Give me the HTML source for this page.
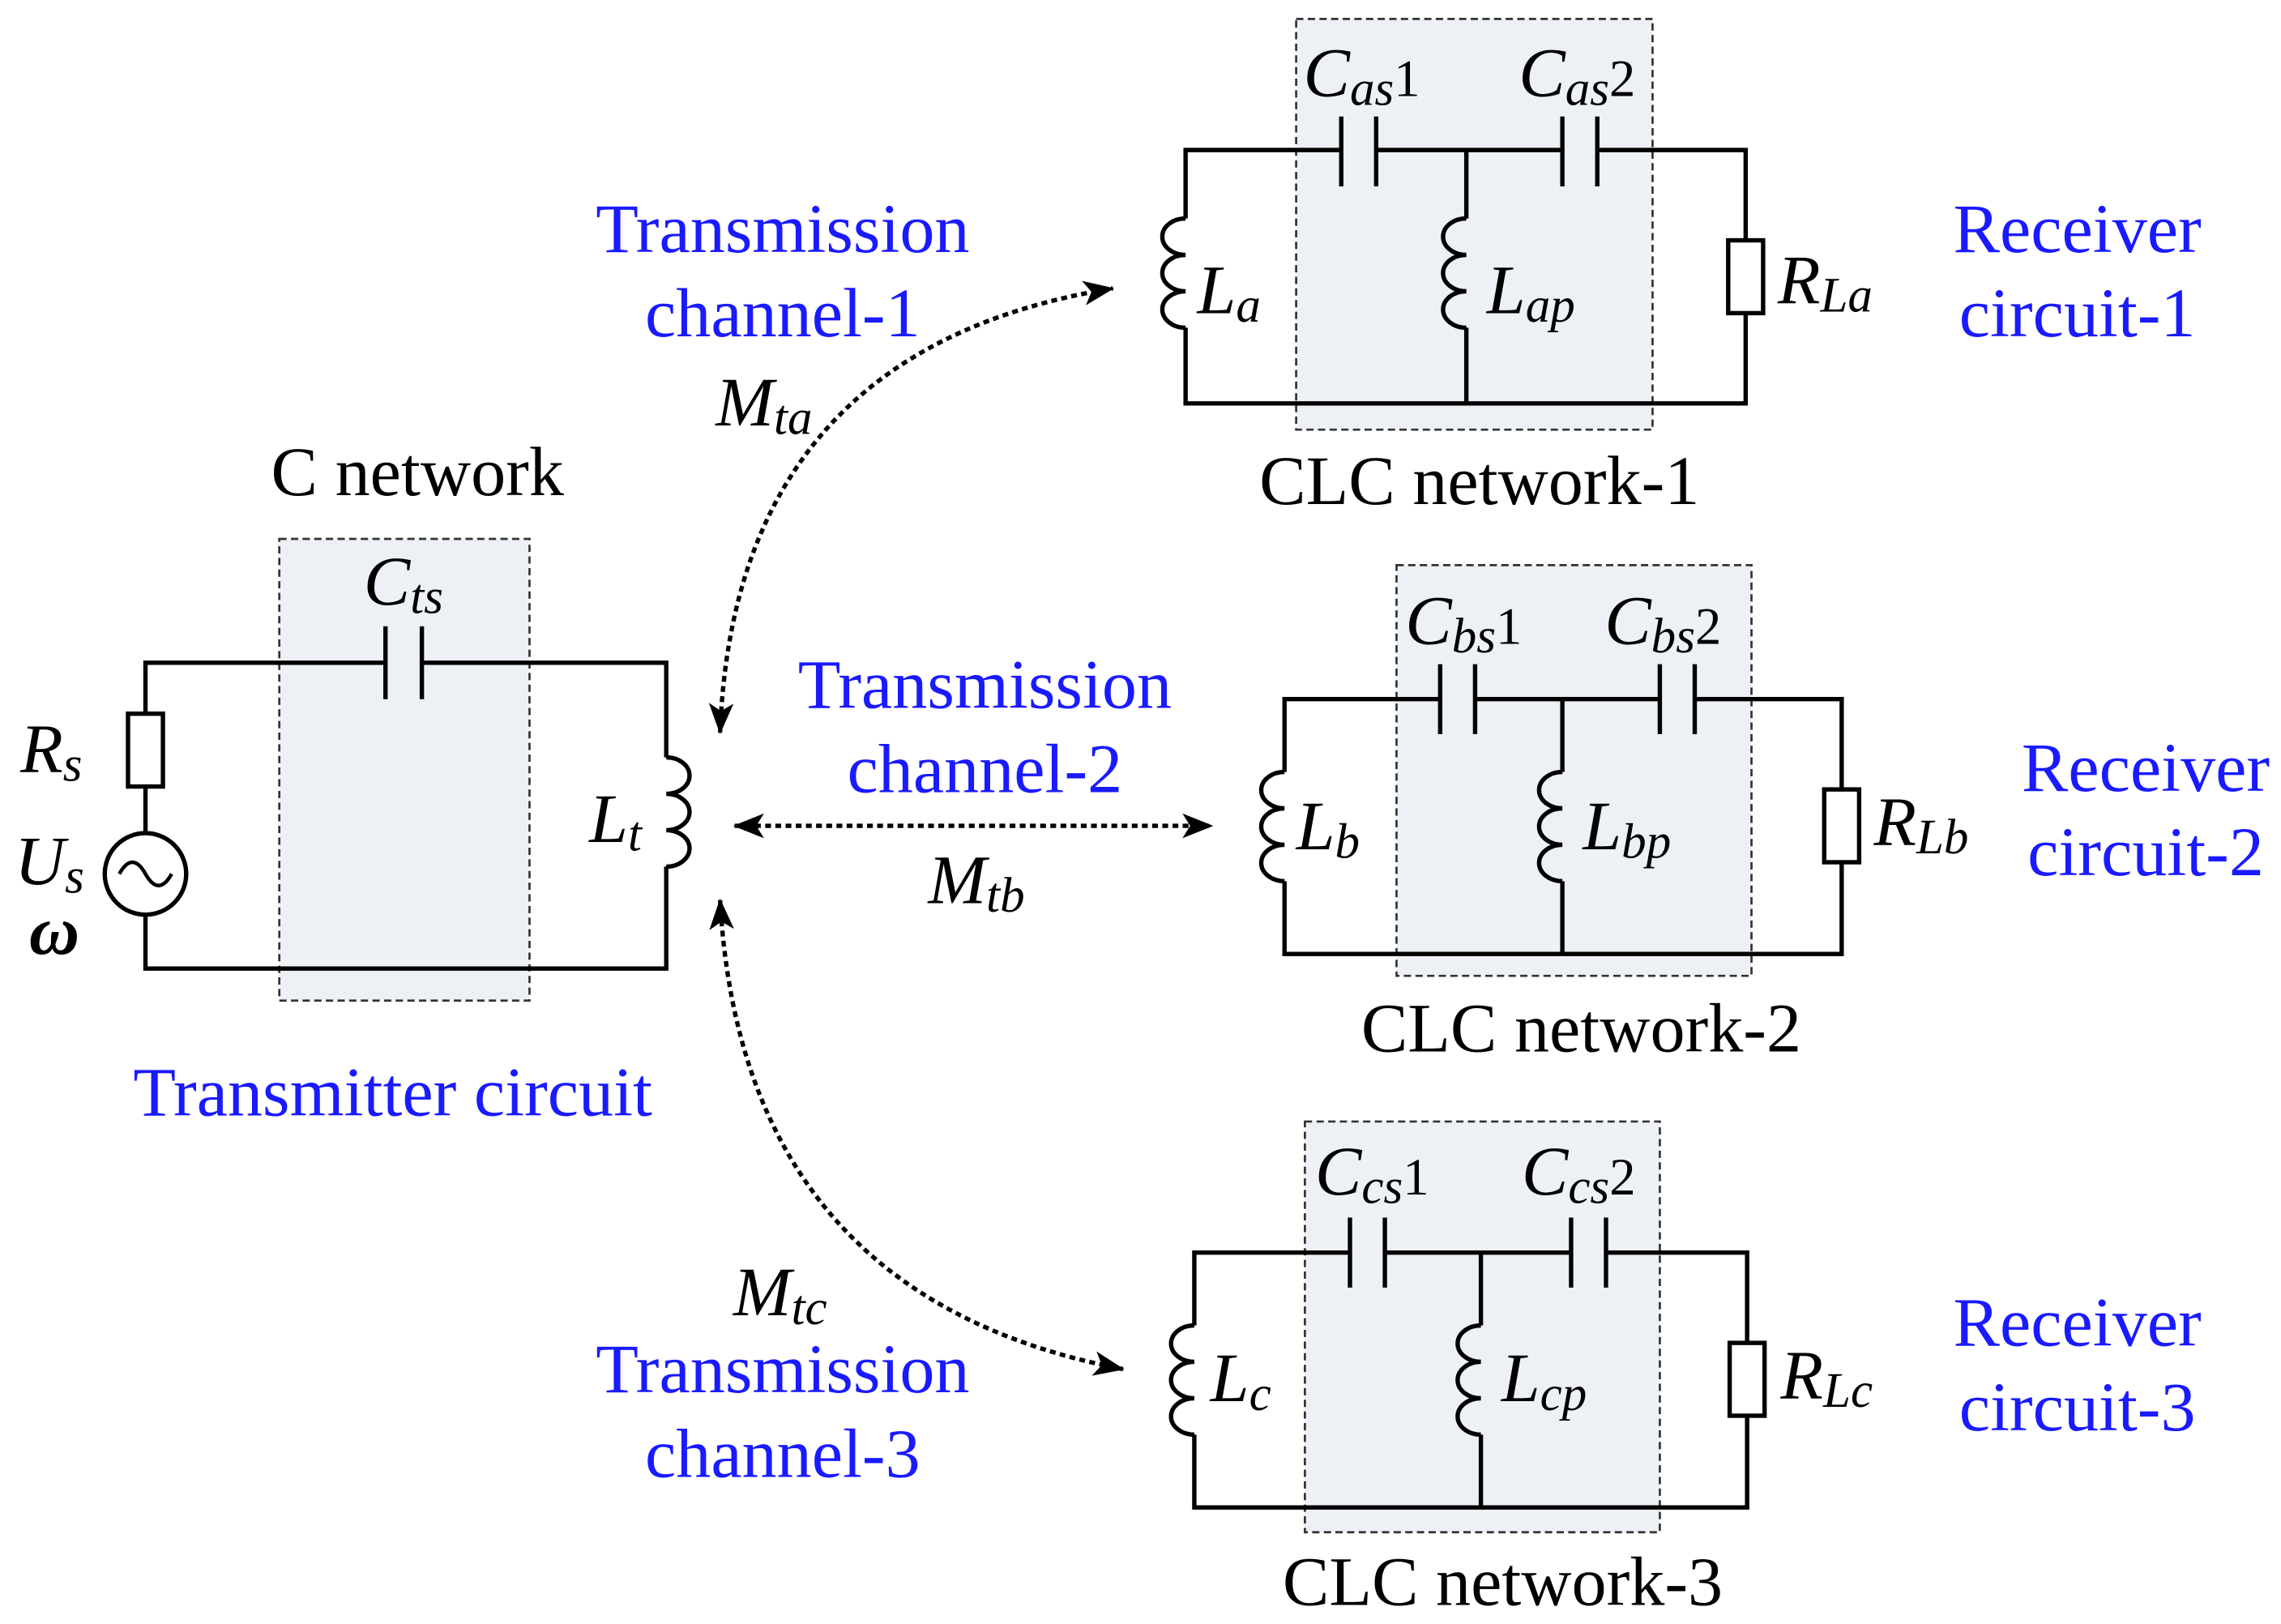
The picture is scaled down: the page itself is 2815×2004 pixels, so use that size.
<!DOCTYPE html>
<html><head><meta charset="utf-8"><style>
html,body{margin:0;padding:0;background:#fff;}
svg{display:block;}
text{font-family:"Liberation Serif",serif;}
.b{fill:#1a1aff;font-size:48px;}
.k{fill:#000;font-size:48px;}
.v{fill:#000;font-size:48px;font-style:italic;}
.s{font-size:34px;}
.n{font-style:normal;font-size:36px;}
</style></head><body>
<svg width="2815" height="2004" viewBox="0 0 1568 1115" preserveAspectRatio="none" xmlns="http://www.w3.org/2000/svg">
<defs>
<marker id="ah" viewBox="0 0 20 16" refX="19" refY="8" markerWidth="22" markerHeight="17" orient="auto-start-reverse" markerUnits="userSpaceOnUse"><path d="M0,0 L20,8 L0,16 L5,8 z" fill="#000"/></marker>
</defs>
<rect width="1568" height="1115" fill="#fff"/>
<g fill="#edf0f5" stroke="#333" stroke-width="1.5" stroke-dasharray="5,3">
<rect x="192" y="370" width="172" height="317"/>
<rect x="891" y="13" width="245" height="282"/>
<rect x="960" y="388" width="244" height="282"/>
<rect x="897" y="770" width="244" height="282"/>
</g>
<g fill="none" stroke="#000" stroke-width="3">
<path d="M100 490 V455 H265 M290 455 H458 V520 M458 595 V665 H100 V628 M100 572 V540"/>
<path d="M265 430 V480 M290 430 V480"/>
<rect x="88" y="490" width="24" height="50" fill="#fff"/>
<circle cx="100" cy="600" r="28"/>
<path d="M82 600 q9 -16 18 0 t18 0" stroke-width="2.5"/>
<path d="M458 520 a16 12.5 0 0 1 0 25 a16 12.5 0 0 1 0 25 a16 12.5 0 0 1 0 25"/>
<path d="M815 150 V103 H922 M946 103 H1074 M1098 103 H1200 V165 M1200 215 V277 H815 V225 M1008 103 V150 M1008 225 V277"/>
<path d="M922 80 V128 M946 80 V128 M1074 80 V128 M1098 80 V128"/>
<rect x="1188" y="165" width="24" height="50" fill="#fff"/>
<path d="M815 150 a16 12.5 0 0 0 0 25 a16 12.5 0 0 0 0 25 a16 12.5 0 0 0 0 25"/>
<path d="M1008 150 a16 12.5 0 0 0 0 25 a16 12.5 0 0 0 0 25 a16 12.5 0 0 0 0 25"/>
<path d="M883 530 V480 H990 M1014 480 H1141 M1165 480 H1266 V542 M1266 592 V655 H883 V605 M1074 480 V530 M1074 605 V655"/>
<path d="M990 456 V504 M1014 456 V504 M1141 456 V504 M1165 456 V504"/>
<rect x="1254" y="542" width="24" height="50" fill="#fff"/>
<path d="M883 530 a16 12.5 0 0 0 0 25 a16 12.5 0 0 0 0 25 a16 12.5 0 0 0 0 25"/>
<path d="M1074 530 a16 12.5 0 0 0 0 25 a16 12.5 0 0 0 0 25 a16 12.5 0 0 0 0 25"/>
<path d="M821 910 V860 H928 M952 860 H1080 M1104 860 H1201 V922 M1201 972 V1035 H821 V985 M1018 860 V910 M1018 985 V1035"/>
<path d="M928 836 V884 M952 836 V884 M1080 836 V884 M1104 836 V884"/>
<rect x="1189" y="922" width="24" height="50" fill="#fff"/>
<path d="M821 910 a16 12.5 0 0 0 0 25 a16 12.5 0 0 0 0 25 a16 12.5 0 0 0 0 25"/>
<path d="M1018 910 a16 12.5 0 0 0 0 25 a16 12.5 0 0 0 0 25 a16 12.5 0 0 0 0 25"/>
</g>
<g fill="none" stroke="#000" stroke-width="3" stroke-dasharray="4,3" marker-start="url(#ah)" marker-end="url(#ah)">
<path d="M495 503 Q505 240 765 198"/>
<path d="M505 567 H833"/>
<path d="M495 618 Q510 890 772 940"/>
</g>
<text class="k" x="287" y="340" text-anchor="middle">C network</text>
<text class="v" x="250" y="415">C<tspan class="s" dy="6">ts</tspan></text>
<text class="v" x="14" y="530">R<tspan class="s" dy="6">s</tspan></text>
<text class="v" x="10" y="607">U<tspan class="s" dy="6">s</tspan></text>
<text class="v" x="20" y="655" style="font-weight:bold">ω</text>
<text class="v" x="405" y="578">L<tspan class="s" dy="6">t</tspan></text>
<text class="b" x="270" y="766" text-anchor="middle">Transmitter circuit</text>

<text class="b" x="538" y="173" text-anchor="middle">Transmission</text>
<text class="b" x="538" y="231" text-anchor="middle">channel-1</text>
<text class="v" x="492" y="292">M<tspan class="s" dy="6">ta</tspan></text>
<text class="v" x="896" y="66">C<tspan class="s" dy="6">as</tspan><tspan class="n" dy="-6">1</tspan></text>
<text class="v" x="1044" y="66">C<tspan class="s" dy="6">as</tspan><tspan class="n" dy="-6">2</tspan></text>
<text class="v" x="823" y="215">L<tspan class="s" dy="6">a</tspan></text>
<text class="v" x="1022" y="215">L<tspan class="s" dy="6">ap</tspan></text>
<text class="v" x="1222" y="208">R<tspan class="s" dy="6">La</tspan></text>
<text class="k" x="1017" y="346" text-anchor="middle">CLC network-1</text>
<text class="b" x="1428" y="173" text-anchor="middle">Receiver</text>
<text class="b" x="1428" y="231" text-anchor="middle">circuit-1</text>

<text class="b" x="677" y="486" text-anchor="middle">Transmission</text>
<text class="b" x="677" y="544" text-anchor="middle">channel-2</text>
<text class="v" x="638" y="620">M<tspan class="s" dy="6">tb</tspan></text>
<text class="v" x="966" y="442">C<tspan class="s" dy="6">bs</tspan><tspan class="n" dy="-6">1</tspan></text>
<text class="v" x="1103" y="442">C<tspan class="s" dy="6">bs</tspan><tspan class="n" dy="-6">2</tspan></text>
<text class="v" x="891" y="583">L<tspan class="s" dy="6">b</tspan></text>
<text class="v" x="1088" y="583">L<tspan class="s" dy="6">bp</tspan></text>
<text class="v" x="1288" y="580">R<tspan class="s" dy="6">Lb</tspan></text>
<text class="k" x="1087" y="722" text-anchor="middle">CLC network-2</text>
<text class="b" x="1475" y="543" text-anchor="middle">Receiver</text>
<text class="b" x="1475" y="601" text-anchor="middle">circuit-2</text>

<text class="v" x="504" y="903">M<tspan class="s" dy="6">tc</tspan></text>
<text class="b" x="538" y="956" text-anchor="middle">Transmission</text>
<text class="b" x="538" y="1014" text-anchor="middle">channel-3</text>
<text class="v" x="904" y="820">C<tspan class="s" dy="6">cs</tspan><tspan class="n" dy="-6">1</tspan></text>
<text class="v" x="1046" y="820">C<tspan class="s" dy="6">cs</tspan><tspan class="n" dy="-6">2</tspan></text>
<text class="v" x="832" y="962">L<tspan class="s" dy="6">c</tspan></text>
<text class="v" x="1032" y="962">L<tspan class="s" dy="6">cp</tspan></text>
<text class="v" x="1224" y="960">R<tspan class="s" dy="6">Lc</tspan></text>
<text class="k" x="1033" y="1102" text-anchor="middle">CLC network-3</text>
<text class="b" x="1428" y="924" text-anchor="middle">Receiver</text>
<text class="b" x="1428" y="982" text-anchor="middle">circuit-3</text>
</svg>
</body></html>
